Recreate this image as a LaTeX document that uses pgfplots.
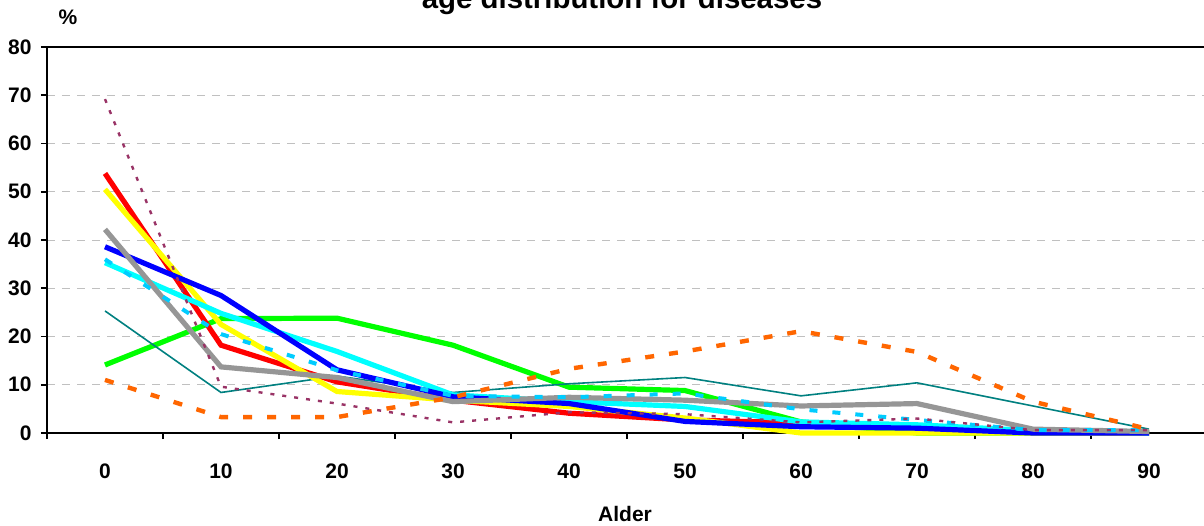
\documentclass[border=0pt]{standalone}
\usepackage{fontspec}
\setmainfont{Liberation Sans}
\usepackage{pgfplots}
\pgfplotsset{compat=1.18}
\definecolor{cRed}{HTML}{FF0000}
\definecolor{cYellow}{HTML}{FFFF00}
\definecolor{cGray}{HTML}{969696}
\definecolor{cBlue}{HTML}{0000FF}
\definecolor{cCyan}{HTML}{00FFFF}
\definecolor{cSky}{HTML}{00CCFF}
\definecolor{cGreen}{HTML}{00FF00}
\definecolor{cTeal}{HTML}{008080}
\definecolor{cOrange}{HTML}{FF6600}
\definecolor{cPurple}{HTML}{993366}
\definecolor{cGrid}{HTML}{C0C0C0}
\begin{document}
\begin{tikzpicture}
\begin{axis}[
  at={(23.5pt,46pt)}, anchor=south west,
  scale only axis, width=580pt, height=193pt,
  xmin=-0.5, xmax=9.5, ymin=0, ymax=80,
  clip=false,
  axis line style={black, line width=1pt},
  xtick={0,...,9},
  xticklabels={0,10,20,30,40,50,60,70,80,90},
  minor xtick={-0.5,0.5,...,9.5},
  ytick={0,10,...,80},
  tick align=outside,
  xtick pos=bottom, ytick pos=left,
  major x tick style={draw=none},
  minor tick length=3pt,
  major tick length=3pt,
  tick style={black, line width=0.8pt},
  ymajorgrids,
  major grid style={cGrid, line width=0.5pt, dash pattern=on 4pt off 3.5pt},
  /pgf/number format/assume math mode=true,
  ticklabel style={font=\bfseries\fontsize{10.5}{12}\selectfont},
  xticklabel style={anchor=base, inner sep=0pt, yshift=-19.5pt},
  yticklabel style={anchor=east, inner sep=0pt, xshift=-4.5pt},
]
% green
\addplot[cGreen, line width=2.6pt] coordinates {(0,14.1)(1,23.7)(2,23.8)(3,18.2)(4,9.5)(5,8.8)(6,2.3)(7,0)(8,0)(9,0)};
% teal
\addplot[cTeal, line width=0.8pt] coordinates {(0,25.3)(1,8.4)(2,11.8)(3,8.4)(4,10.2)(5,11.5)(6,7.7)(7,10.4)(8,5.6)(9,0.8)};
% red
\addplot[cRed, line width=2.6pt] coordinates {(0,53.8)(1,18.2)(2,10.6)(3,6.8)(4,4.1)(5,2.7)(6,2.1)(7,1.2)(8,0.2)(9,0)};
% yellow
\addplot[cYellow, line width=2.6pt] coordinates {(0,50.5)(1,22.5)(2,8.6)(3,6.8)(4,5.5)(5,3.1)(6,0)(7,0)(8,0)(9,0)};
% cyan
\addplot[cCyan, line width=2.6pt] coordinates {(0,35.3)(1,24.8)(2,16.9)(3,7.9)(4,6.5)(5,5.5)(6,2.3)(7,1.7)(8,0.5)(9,0)};
% blue
\addplot[cBlue, line width=2.6pt] coordinates {(0,38.6)(1,28.5)(2,13.1)(3,7.5)(4,6.1)(5,2.4)(6,1.3)(7,1.0)(8,0)(9,0)};
% gray
\addplot[cGray, line width=2.6pt] coordinates {(0,42.2)(1,13.7)(2,11.5)(3,6.5)(4,7.4)(5,6.8)(6,5.6)(7,6.1)(8,0.8)(9,0.3)};
% sky blue dashed
\addplot[cSky, line width=2pt, dash pattern=on 4pt off 7.5pt] coordinates {(0,36)(1,20.5)(2,13)(3,7.7)(4,7.4)(5,8.2)(6,4.9)(7,2.7)(8,0.6)(9,0.6)};
% orange dashed
\addplot[cOrange, line width=2.2pt, dash pattern=on 4.5pt off 7.5pt] coordinates {(0,11.0)(1,3.3)(2,3.3)(3,7.4)(4,13.3)(5,16.9)(6,21.1)(7,16.8)(8,6.5)(9,0.8)};
% purple dotted
\addplot[cPurple, line width=1.2pt, dash pattern=on 2pt off 4pt] coordinates {(0,69.2)(1,9.6)(2,6.1)(3,2.2)(4,4.3)(5,3.9)(6,2.2)(7,3.0)(8,0.6)(9,0.6)};
\end{axis}
\node[anchor=base, inner sep=0pt, font=\bfseries\fontsize{14.7}{17}\selectfont] at (311pt,258pt) {age distribution for diseases};
\node[anchor=base, inner sep=0pt, font=\bfseries\fontsize{10.5}{12}\selectfont] at (34pt,250pt) {\%};
\node[anchor=base, inner sep=0pt, font=\bfseries\fontsize{10.5}{12}\selectfont] at (312.5pt,2pt) {Alder};
\pgfresetboundingbox
\useasboundingbox (0,0) rectangle (602pt,262.5pt);
\end{tikzpicture}
\end{document}
